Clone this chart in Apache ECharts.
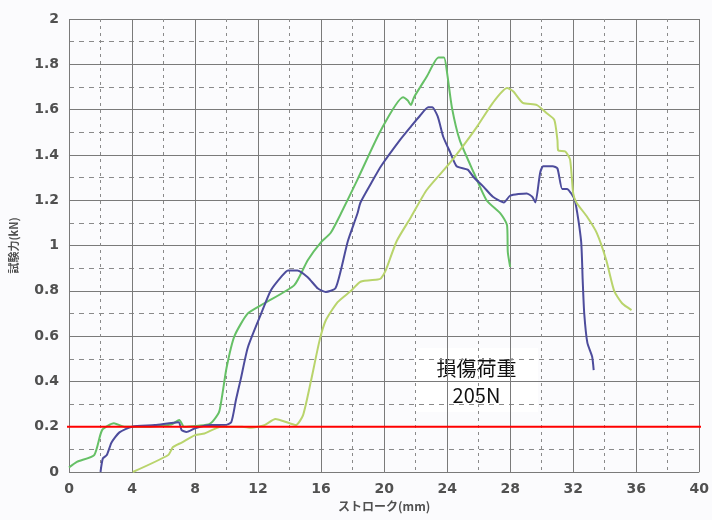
<!DOCTYPE html>
<html><head><meta charset="utf-8">
<script src="https://cdn.jsdelivr.net/npm/echarts@6/dist/echarts.min.js"></script>
<style>html,body{margin:0;padding:0;background:#fbfbfd;}#c{width:712px;height:520px;}</style>
</head><body><div id="c"></div>
<script>
const xAxisName = 'ストローク(mm)';
const yAxisName = '試験力(kN)';
const annotationLines = ['損傷荷重', '205N'];
const damageLoad = 0.2;
const refLineX = [-0.6, 40.5];

const greenSeries = [[0,0.02],[0.5,0.045],[1.6,0.075],[2.1,0.185],[2.85,0.215],[3.5,0.2],[5,0.2],[6.5,0.21],[7.0,0.23],[7.3,0.2],[8.85,0.21],[9.2,0.23],[9.55,0.27],[10,0.46],[10.5,0.6],[11.35,0.7],[12.4,0.745],[14.3,0.825],[15.15,0.935],[16,1.015],[16.6,1.055],[17.25,1.14],[18.3,1.29],[19.8,1.51],[21.2,1.655],[21.5,1.64],[21.7,1.62],[21.9,1.655],[22.7,1.745],[23.45,1.83],[23.8,1.83],[24.0,1.76],[24.3,1.61],[24.8,1.465],[25.7,1.32],[26.5,1.2],[27.4,1.14],[27.8,1.09],[27.85,0.97],[28.0,0.905]];

const blueSeries = [[2.0,0],[2.15,0.06],[2.4,0.075],[2.7,0.13],[3.2,0.175],[4.0,0.2],[5.45,0.207],[6.95,0.22],[7.15,0.185],[7.45,0.177],[8.0,0.193],[9.0,0.207],[9.9,0.207],[10.3,0.22],[10.6,0.32],[10.9,0.41],[11.35,0.55],[12.2,0.7],[12.8,0.8],[13.45,0.86],[13.9,0.89],[14.5,0.89],[15.15,0.86],[15.8,0.81],[16.3,0.795],[16.9,0.81],[17.25,0.89],[17.7,1.02],[18.3,1.14],[18.5,1.19],[19.3,1.29],[19.8,1.35],[21.0,1.465],[21.7,1.525],[22.3,1.575],[22.8,1.61],[23.05,1.61],[23.4,1.57],[23.75,1.48],[24.2,1.41],[24.6,1.35],[25.3,1.335],[25.7,1.3],[26.3,1.26],[26.9,1.215],[27.6,1.19],[28.0,1.22],[29.05,1.23],[29.4,1.215],[29.6,1.19],[29.9,1.32],[30.1,1.35],[30.7,1.35],[31.0,1.34],[31.3,1.25],[31.6,1.25],[32.1,1.2],[32.5,1.02],[32.6,0.85],[32.7,0.7],[32.9,0.57],[33.2,0.51],[33.3,0.45]];

const yellowSeries = [[4.05,0],[6.3,0.075],[6.6,0.11],[7.15,0.13],[8.0,0.163],[8.6,0.17],[9.65,0.2],[11.0,0.2],[11.55,0.195],[12.4,0.207],[13.1,0.234],[14.0,0.215],[14.4,0.207],[14.85,0.25],[15.35,0.4],[15.9,0.58],[16.3,0.67],[17.05,0.75],[17.9,0.8],[18.5,0.84],[19.6,0.85],[19.8,0.855],[20.1,0.89],[20.8,1.02],[21.7,1.125],[22.7,1.245],[24.0,1.35],[24.8,1.42],[25.9,1.525],[26.9,1.63],[27.8,1.695],[28.2,1.68],[28.8,1.63],[29.7,1.62],[30.3,1.585],[30.8,1.555],[31.0,1.465],[31.05,1.42],[31.5,1.415],[31.8,1.38],[32.0,1.23],[32.2,1.19],[32.9,1.125],[33.5,1.055],[34.1,0.935],[34.6,0.8],[35.1,0.745],[35.7,0.715]];

const chart = echarts.init(document.getElementById('c'));
const labelStyle = {color:'#505050', fontFamily:'DejaVu Sans', fontWeight:'bold', fontSize:14};
const lineSeries = (data, color) => ({type:'line', data, showSymbol:false, symbol:'none', smooth:0.2, lineStyle:{color, width:2}, animation:false});
chart.setOption({
  backgroundColor:'#fbfbfd',
  animation:false,
  grid:{left:67, right:12, top:19, bottom:48},
  xAxis:{type:'value', min:0, max:40, interval:4,
    name:xAxisName, nameLocation:'middle', nameGap:28,
    nameTextStyle:{color:'#505050', fontFamily:'Noto Sans CJK JP', fontWeight:'bold', fontSize:12},
    axisLine:{show:false}, axisTick:{show:false},
    axisLabel:Object.assign({margin:10}, labelStyle),
    splitLine:{show:true, lineStyle:{color:'#7a7a7a', width:1}},
    minorTick:{show:false, splitNumber:2},
    minorSplitLine:{show:true, lineStyle:{color:'#8a8a8a', width:1, type:[3,4]}}
  },
  yAxis:{type:'value', min:0, max:2, interval:0.2,
    name:yAxisName, nameLocation:'middle', nameGap:50, nameRotate:90,
    nameTextStyle:{color:'#505050', fontFamily:'Noto Sans CJK JP', fontWeight:'bold', fontSize:11},
    axisLine:{show:false}, axisTick:{show:false},
    axisLabel:Object.assign({margin:10}, labelStyle),
    splitLine:{show:true, lineStyle:{color:'#7a7a7a', width:1}},
    minorTick:{show:false, splitNumber:2},
    minorSplitLine:{show:true, lineStyle:{color:'#8a8a8a', width:1, type:[5,5]}}
  },
  series:[
    lineSeries(greenSeries, '#66c066'),
    lineSeries(blueSeries, '#4d4c9c'),
    lineSeries(yellowSeries, '#b9d46c'),
    {type:'line', data:refLineX.map(x => [x, damageLoad]), clip:false, symbol:'none', showSymbol:false,
     lineStyle:{color:'#ff0000', width:2}, z:10, animation:false}
  ],
  graphic:[{
    type:'group', left:415, top:348,
    children:[
      {type:'rect', shape:{x:0, y:0, width:123, height:64}, style:{fill:'#ffffff'}},
      {type:'text', x:61.5, y:20, style:{text:annotationLines[0], fill:'#111', font:'20px "Noto Sans CJK JP"', align:'center', verticalAlign:'middle'}},
      {type:'text', x:61.5, y:47, style:{text:annotationLines[1], fill:'#111', font:'20px "Noto Sans CJK JP"', align:'center', verticalAlign:'middle'}}
    ]
  }]
});
</script></body></html>
